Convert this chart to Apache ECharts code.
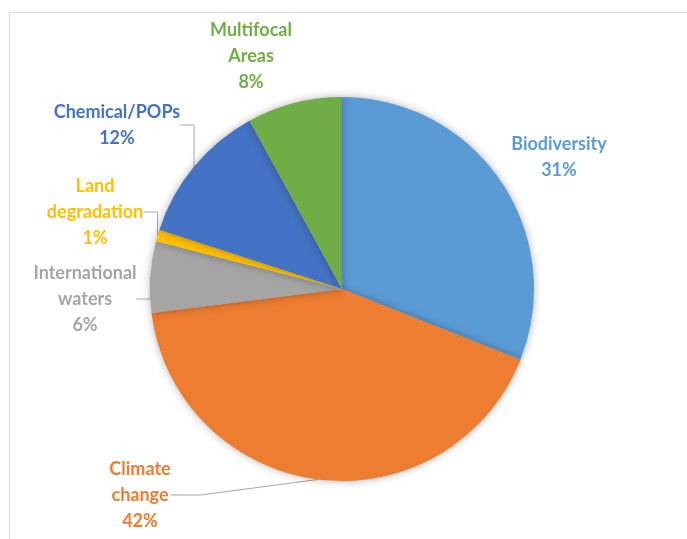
<!DOCTYPE html>
<html>
<head>
<meta charset="utf-8">
<script src="https://cdn.jsdelivr.net/npm/echarts@6/dist/echarts.min.js"></script>
<style>
  html, body { margin: 0; padding: 0; background: #fff; }
  #chart { width: 687px; height: 539px; }
</style>
</head>
<body>
<div id="chart"></div>
<script>
const names = ["Biodiversity", "Climate\nchange", "International\nwaters", "Land\ndegradation", "Chemical/POPs", "Multifocal\nAreas"];
const values = [31, 42, 6, 1, 12, 8];
const colors = ["#5b9bd5", "#ed7d31", "#a5a5a5", "#ffc000", "#4472c4", "#70ad47"];
const showLine = [false, true, true, true, true, false];

// label centres (layout only)
const labelPos = [[559, 157], [140, 495], [85, 299], [95, 212], [117, 125], [251, 56]];

const chart = echarts.init(document.getElementById("chart"));
chart.setOption({
  animation: false,
  graphic: [{
    type: "rect",
    shape: { x: 9.5, y: 12.5, width: 700, height: 560 },
    style: { fill: "none", stroke: "#d9d9d9", lineWidth: 1 },
    silent: true
  }],
  series: [{
    type: "pie",
    center: [342, 289],
    radius: 192,
    startAngle: 90,
    clockwise: true,
    data: names.map((n, i) => ({
      name: n,
      value: values[i],
      itemStyle: { color: colors[i] },
      label: { color: colors[i] },
      labelLine: { show: showLine[i] }
    })),
    itemStyle: {
      shadowBlur: 8,
      shadowColor: "rgba(0,0,0,0.3)"
    },
    label: {
      show: true,
      position: "outside",
      formatter: "{b}\n{c}%",
      fontFamily: "Lato",
      fontWeight: "bold",
      fontSize: 18,
      lineHeight: 26,
      align: "center",
      overflow: "none"
    },
    labelLine: {
      lineStyle: { color: "#a6a6a6", width: 1 }
    },
    labelLayout: (p) => ({
      x: labelPos[p.dataIndex][0],
      y: labelPos[p.dataIndex][1],
      align: "center",
      verticalAlign: "middle"
    })
  }]
});
</script>
</body>
</html>
